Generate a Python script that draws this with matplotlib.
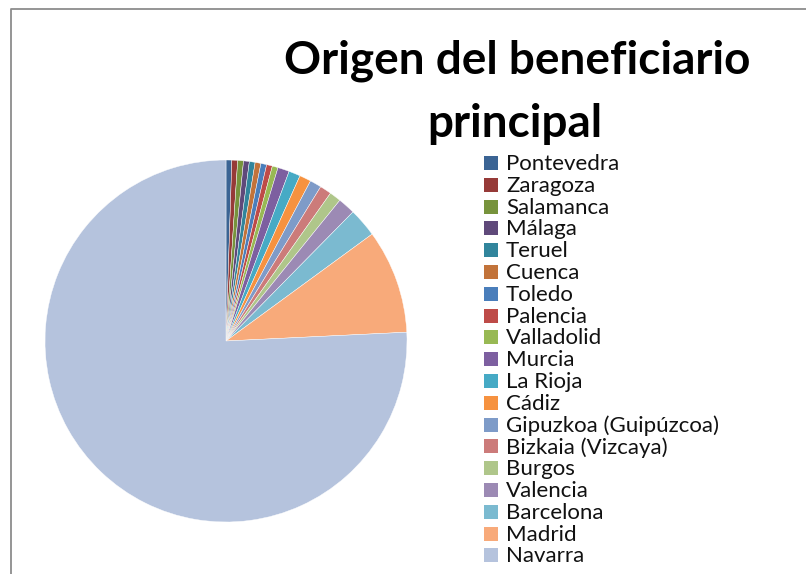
import matplotlib
matplotlib.use('Agg')
import matplotlib.pyplot as plt
from matplotlib.patches import Rectangle
from matplotlib.lines import Line2D

provincias = ['Pontevedra', 'Zaragoza', 'Salamanca', 'Málaga', 'Teruel', 'Cuenca',
              'Toledo', 'Palencia', 'Valladolid', 'Murcia', 'La Rioja', 'Cádiz',
              'Gipuzkoa (Guipúzcoa)', 'Bizkaia (Vizcaya)', 'Burgos', 'Valencia',
              'Barcelona', 'Madrid', 'Navarra']
beneficiarios = [1, 1, 1, 1, 1, 1, 1, 1, 1, 2, 2, 2, 2, 2, 2, 3, 5, 18, 147]
colores = ['#3B6494', '#963A38', '#77933C', '#5F497A', '#31859C', '#C2733A',
           '#4A7EBB', '#BE4B48', '#98B954', '#7D5FA0', '#46AAC5', '#F69240',
           '#7E9BC8', '#CC7B7A', '#AFC68A', '#9C8AB4', '#7BBAD0', '#F8AA7A',
           '#B5C3DD']
titulo = ['Origen del beneficiario', 'principal']

W, H = 806, 574
fig = plt.figure(figsize=(W/100, H/100), dpi=100)

# pie centred at (226, 341) px, radius 181 px
cx, cy, r = 226, 341, 181
ax = fig.add_axes([(cx-r)/W, (H-cy-r)/H, 2*r/W, 2*r/H])
ax.pie(beneficiarios, colors=colores, startangle=90, counterclock=False,
       wedgeprops=dict(edgecolor='white', linewidth=0.3))
ax.set_xlim(-1, 1)
ax.set_ylim(-1, 1)
ax.set_aspect('auto')
ax.axis('off')

# title
fig.text(517/W, 1-73/H, titulo[0], ha='center', va='baseline',
         fontsize=33, fontweight='bold', family='Lato')
fig.text(515/W, 1-137/H, titulo[1], ha='center', va='baseline',
         fontsize=33, fontweight='bold', family='Lato')

# legend
y0, dy = 163, 21.8
for i, (lab, col) in enumerate(zip(provincias, colores)):
    y = y0 + i*dy
    fig.patches.append(Rectangle((484/W, 1-(y+7)/H), 14/W, 14/H,
                                 transform=fig.transFigure, facecolor=col,
                                 edgecolor='none'))
    fig.text(506/W, 1-(y+1)/H, lab, ha='left', va='center', fontsize=16,
             family='Lato', color='#111111')

# chart border
fig.add_artist(Line2D([11/W, 11/W, 1], [0, 1-9/H, 1-9/H],
                      transform=fig.transFigure, color='#8c8c8c', lw=1.3))

fig.savefig('out.png', dpi=100)
